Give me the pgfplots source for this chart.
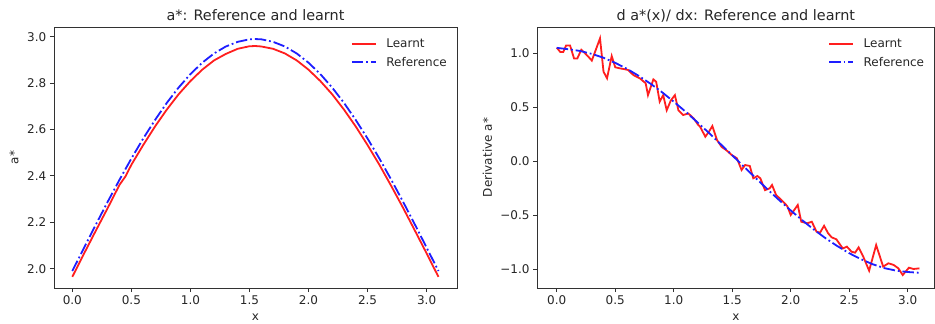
\documentclass[border=0pt]{standalone}
\usepackage{pgfplots}
\pgfplotsset{compat=1.18}
\usepackage{pgfplotstable}
\usepackage{fontspec}
\setmainfont{DejaVu Sans}
\definecolor{lred}{RGB}{255,30,30}
\definecolor{lblue}{RGB}{30,30,255}
\definecolor{spine}{RGB}{50,50,50}
\definecolor{txt}{RGB}{38,38,38}

\pgfplotstableread{
x y
0.00 1.990
0.10 2.091
0.20 2.191
0.30 2.289
0.40 2.384
0.50 2.475
0.60 2.561
0.70 2.641
0.80 2.715
0.90 2.781
1.00 2.839
1.10 2.888
1.20 2.928
1.30 2.958
1.40 2.978
1.50 2.989
1.55 2.990
1.60 2.989
1.70 2.978
1.80 2.958
1.90 2.928
2.00 2.888
2.10 2.839
2.20 2.781
2.30 2.715
2.40 2.641
2.50 2.561
2.60 2.475
2.70 2.384
2.80 2.289
2.90 2.191
3.00 2.091
3.10 1.990
}\aref

\pgfplotstableread{
x y
0.00 1.965
0.10 2.066
0.20 2.165
0.30 2.262
0.40 2.362
0.45 2.398
0.50 2.448
0.60 2.533
0.70 2.613
0.80 2.686
0.90 2.752
1.00 2.809
1.10 2.858
1.20 2.898
1.30 2.926
1.40 2.948
1.50 2.959
1.55 2.960
1.60 2.958
1.70 2.948
1.80 2.928
1.90 2.898
2.00 2.858
2.10 2.809
2.20 2.752
2.30 2.686
2.40 2.613
2.50 2.533
2.60 2.448
2.70 2.357
2.80 2.263
2.90 2.165
3.00 2.066
3.10 1.965
}\alearn

\pgfplotstableread{
x y
0.00 1.048
0.10 1.035
0.20 1.019
0.30 0.992
0.40 0.956
0.50 0.909
0.60 0.854
0.70 0.789
0.80 0.717
0.90 0.637
1.00 0.550
1.10 0.458
1.20 0.361
1.30 0.261
1.40 0.157
1.50 0.053
1.60 -0.053
1.70 -0.157
1.80 -0.261
1.90 -0.361
2.00 -0.458
2.10 -0.550
2.20 -0.637
2.30 -0.717
2.40 -0.789
2.50 -0.854
2.60 -0.909
2.70 -0.956
2.80 -0.992
2.90 -1.015
3.00 -1.028
3.10 -1.035
}\dref

\pgfplotstableread{
x y
0.00 1.05
0.03 1.01
0.056 1.01
0.08 1.07
0.114 1.07
0.148 0.95
0.176 0.95
0.21 1.03
0.24 1.00
0.27 0.966
0.30 0.93
0.37 1.136
0.40 0.827
0.43 0.766
0.47 0.972
0.50 0.868
0.54 0.858
0.58 0.85
0.61 0.843
0.655 0.796
0.71 0.766
0.76 0.72
0.78 0.61
0.826 0.756
0.85 0.734
0.88 0.55
0.91 0.61
0.94 0.47
0.975 0.56
1.01 0.61
1.04 0.47
1.08 0.426
1.125 0.44
1.17 0.395
1.21 0.333
1.225 0.318
1.27 0.225
1.30 0.27
1.33 0.324
1.37 0.194
1.41 0.13
1.45 0.10
1.495 0.056
1.54 0.025
1.58 -0.083
1.61 -0.037
1.65 -0.046
1.68 -0.16
1.715 -0.139
1.74 -0.16
1.78 -0.27
1.82 -0.253
1.84 -0.222
1.875 -0.315
1.92 -0.361
1.97 -0.417
2.00 -0.50
2.04 -0.438
2.06 -0.407
2.09 -0.562
2.14 -0.577
2.18 -0.562
2.22 -0.654
2.25 -0.664
2.285 -0.60
2.32 -0.67
2.35 -0.707
2.39 -0.725
2.445 -0.81
2.48 -0.793
2.52 -0.84
2.55 -0.849
2.58 -0.80
2.62 -0.886
2.67 -1.016
2.73 -0.778
2.79 -0.978
2.835 -0.947
2.88 -0.963
2.92 -0.994
2.957 -1.056
3.01 -0.988
3.05 -1.00
3.10 -0.994
}\dlearn

\pgfplotsset{
  mpl/.style={
    scale only axis, anchor=south west,
    axis line style={spine, line width=0.96pt},
    tick style={spine, line width=0.96pt},
    tick align=outside, major tick length=4.2pt,
    xtick pos=bottom, ytick pos=left,
    xtick={0,0.5,1,1.5,2,2.5,3},
    xticklabels={0.0,0.5,1.0,1.5,2.0,2.5,3.0},
    ticklabel style={font=\fontsize{12}{14}\selectfont, text=txt},
    every axis x label/.style={at={(axis description cs:0.5,0)}, anchor=base, yshift=-33pt, font=\fontsize{12}{14}\selectfont, text=txt},
    title style={at={(axis description cs:0.5,1)}, anchor=base, yshift=0.5pt, font=\fontsize{14.4}{17}\selectfont, text=txt, inner sep=0pt},
    legend style={draw=none, fill=none, at={(axis description cs:1,1)}, anchor=north east, xshift=-10pt, yshift=-11.6pt, inner sep=0pt, row sep=8pt, column sep=9.6pt, nodes={inner sep=0pt}, font=\fontsize{12}{14}\selectfont, text=txt},
    legend cell align=left,
    legend image code/.code={\draw[##1, line width=1.8pt] (0pt,0pt) -- (24pt,0pt);},
    every axis plot/.append style={line width=1.8pt},
  },
  lrn/.style={lred, solid},
  rf/.style={lblue, dash pattern=on 11.5pt off 2.9pt on 1.8pt off 2.9pt},
}

\begin{document}
\begin{tikzpicture}
\useasboundingbox (0,0) rectangle (935pt,324pt);
\begin{axis}[mpl, at={(54pt,36pt)}, width=403pt, height=261pt,
  xmin=-0.155, xmax=3.257, ymin=1.917, ymax=3.042,
  ytick={2.0,2.2,2.4,2.6,2.8,3.0},
  yticklabels={2.0,2.2,2.4,2.6,2.8,3.0},
  title={a*: Reference and learnt},
  xlabel={x},
  ylabel={a*},
  every axis y label/.style={at={(axis description cs:-0.099,0.5)}, rotate=90, anchor=center, font=\fontsize{12}{14}\selectfont, text=txt},
]
\addplot[lrn] table[x=x,y=y] {\alearn};
\addlegendentry{Learnt}
\addplot[rf] table[x=x,y=y] {\aref};
\addlegendentry{Reference}
\end{axis}
\begin{axis}[mpl, at={(537.3pt,36pt)}, width=397pt, height=261pt,
  xmin=-0.166, xmax=3.227, ymin=-1.176, ymax=1.241,
  ytick={-1,-0.5,0,0.5,1},
  yticklabels={−1.0,−0.5,0.0,0.5,1.0},
  title={d a*(x)/ dx: Reference and learnt},
  xlabel={x},
  ylabel={Derivative a*},
  every axis y label/.style={at={(axis description cs:-0.1256,0.5)}, rotate=90, anchor=center, font=\fontsize{12}{14}\selectfont, text=txt},
]
\addplot[lrn] table[x=x,y=y] {\dlearn};
\addlegendentry{Learnt}
\addplot[rf] table[x=x,y=y] {\dref};
\addlegendentry{Reference}
\end{axis}
\end{tikzpicture}
\end{document}
